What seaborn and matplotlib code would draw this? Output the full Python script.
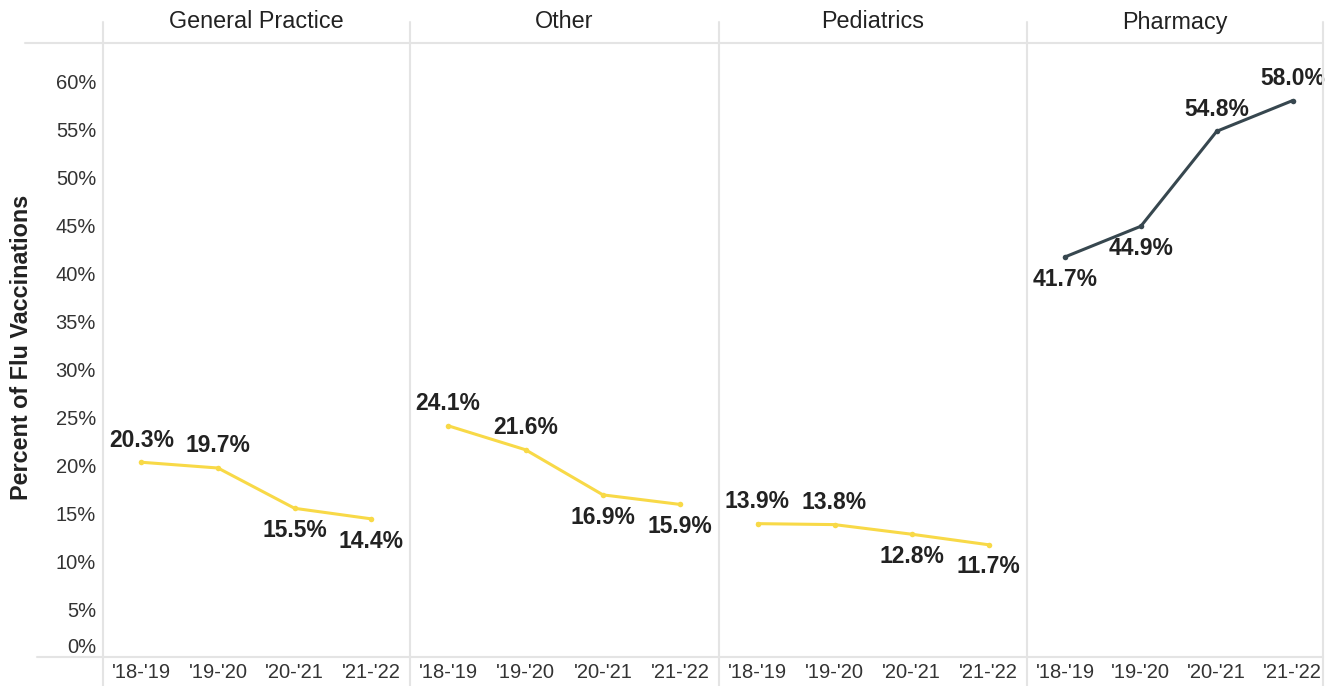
import pandas as pd
import seaborn as sns
import matplotlib.pyplot as plt
from matplotlib.lines import Line2D

# data
seasons = ["'18-'19", "'19-'20", "'20-'21", "'21-'22"]
settings = ["General Practice", "Other", "Pediatrics", "Pharmacy"]
general_practice = [20.3, 19.7, 15.5, 14.4]
other = [24.1, 21.6, 16.9, 15.9]
pediatrics = [13.9, 13.8, 12.8, 11.7]
pharmacy = [41.7, 44.9, 54.8, 58.0]
y_ticks = [0, 5, 10, 15, 20, 25, 30, 35, 40, 45, 50, 55, 60]

values = {"General Practice": general_practice, "Other": other,
          "Pediatrics": pediatrics, "Pharmacy": pharmacy}
rows = []
for s in settings:
    for season, v in zip(seasons, values[s]):
        rows.append({"setting": s, "season": season, "pct": v})
df = pd.DataFrame(rows)

# label above (+1) or below (-1) the point
placement = {"General Practice": [1, 1, -1, -1], "Other": [1, 1, -1, -1],
             "Pediatrics": [1, 1, -1, -1], "Pharmacy": [-1, -1, 1, 1]}
colors = {"General Practice": "#F8D947", "Other": "#F8D947",
          "Pediatrics": "#F8D947", "Pharmacy": "#37474F"}

sns.set_theme(style="white")
plt.rcParams['font.family'] = ['Liberation Sans', 'DejaVu Sans']

W, H = 1338, 686
fig = plt.figure(figsize=(W / 100, H / 100), dpi=100)
edges = [103, 409.5, 719, 1027, 1323]
top_px, bot_px = 43, 657
grid_c = "#e4e4e4"

for i, s in enumerate(settings):
    ax = fig.add_axes([edges[i] / W, 1 - bot_px / H,
                       (edges[i + 1] - edges[i]) / W, (bot_px - top_px) / H])
    d = df[df["setting"] == s]
    sns.lineplot(data=d, x="season", y="pct", ax=ax, sort=False,
                 color=colors[s], linewidth=2.2, marker="o", markersize=4,
                 markeredgewidth=0)
    for j, (season, v) in enumerate(zip(d["season"], d["pct"])):
        ax.annotate(f"{v:.1f}%", (j, v), xytext=(0, 16 * placement[s][j]),
                    textcoords="offset points", ha="center", va="center",
                    fontsize=16.5, fontweight="bold", color="#222222")
    ax.set_ylim(0, 64)
    ax.set_xlim(-0.5, 3.4 if i == 3 else 3.5)
    ax.set_xlabel("")
    ax.set_ylabel("")
    ax.set_yticks(y_ticks)
    if i == 0:
        ax.set_yticklabels([f"{t}%" for t in y_ticks])
        ax.get_yticklabels()[0].set_va("bottom")
    else:
        ax.set_yticklabels([])
    ax.tick_params(axis="both", length=0, labelsize=14.5, colors="#333333")
    ax.tick_params(axis="x", pad=4)
    ax.tick_params(axis="y", pad=5)
    for sp in ax.spines.values():
        sp.set_visible(False)
    ax.patch.set_alpha(0)
    fig.text((edges[i] + edges[i + 1]) / 2 / W, 1 - 22 / H, s,
             ha="center", va="center", fontsize=16.8, color="#222222")

# panel separators and header / axis rules
for x in edges:
    fig.add_artist(Line2D([x / W, x / W], [1 - 22 / H, 0], color=grid_c, lw=1.5))
fig.add_artist(Line2D([25 / W, edges[-1] / W], [1 - top_px / H] * 2, color=grid_c, lw=1.5))
fig.add_artist(Line2D([37 / W, edges[-1] / W], [1 - bot_px / H] * 2, color=grid_c, lw=1.5))

fig.text(22 / W, 1 - 347 / H, "Percent of Flu Vaccinations", rotation=90,
         ha="center", va="center", fontsize=16.8, fontweight="bold", color="#222222")

fig.savefig("out.png", dpi=100)
